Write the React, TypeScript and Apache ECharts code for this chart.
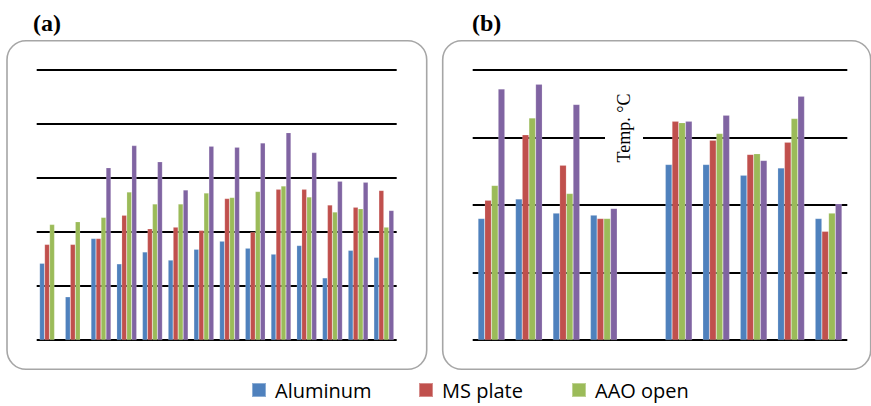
import React, { useEffect, useRef } from "react";
import * as echarts from "echarts";

// Panel (a): 14 measurement groups
const categoriesA = ["1", "2", "3", "4", "5", "6", "7", "8", "9", "10", "11", "12", "13", "14"];
const aluminumA = [14.2, 8.0, 18.8, 14.1, 16.3, 14.8, 16.8, 18.3, 17.0, 15.9, 17.5, 11.5, 16.6, 15.3];
const msPlateA = [17.7, 17.7, 18.8, 23.1, 20.6, 20.9, 20.3, 26.2, 20.0, 27.9, 27.9, 25.0, 24.6, 27.7];
const aaoOpenA = [21.4, 21.9, 22.7, 27.4, 25.2, 25.2, 27.2, 26.4, 27.5, 28.5, 26.5, 23.7, 24.3, 20.9];
const fourthA = [null, null, 31.9, 36.0, 33.0, 27.8, 35.9, 35.7, 36.5, 38.4, 34.7, 29.4, 29.2, 24.0];

// Panel (b): 10 groups (5th left empty)
const categoriesB = ["1", "2", "3", "4", "5", "6", "7", "8", "9", "10"];
const aluminumB = [18.0, 20.9, 18.8, 18.5, null, 26.0, 26.0, 24.4, 25.5, 18.0];
const msPlateB = [20.7, 30.4, 25.9, 18.0, null, 32.4, 29.6, 27.5, 29.3, 16.1];
const aaoOpenB = [22.9, 32.9, 21.7, 18.0, null, 32.2, 30.6, 27.6, 32.8, 18.8];
const fourthB = [37.2, 37.9, 34.9, 19.5, null, 32.4, 33.3, 26.6, 36.1, 20.2];

const yMaxA = 50;
const yMaxB = 40;
const yInterval = 10;

const seriesNames = ["Aluminum", "MS plate", "AAO open", "Series 4"];
const colors = ["#4F81BD", "#C0504D", "#9BBB59", "#8064A2"];

export default function App() {
  const ref = useRef<HTMLDivElement>(null);

  useEffect(() => {
    document.body.style.margin = "0";
    if (!ref.current) return;
    const chart = echarts.init(ref.current, null, { renderer: "svg" });

    const yAxisBase = (max: number, gridIndex: number) => ({
      type: "value" as const,
      gridIndex,
      min: 0,
      max,
      interval: yInterval,
      axisLabel: { show: false },
      axisLine: { show: false },
      axisTick: { show: false },
      splitLine: { show: true, lineStyle: { color: "#000", width: 2 } },
    });
    const xAxisBase = (data: string[], gridIndex: number) => ({
      type: "category" as const,
      gridIndex,
      data,
      axisLabel: { show: false },
      axisLine: { show: false },
      axisTick: { show: false },
      splitLine: { show: false },
    });

    const dataA = [aluminumA, msPlateA, aaoOpenA, fourthA];
    const dataB = [aluminumB, msPlateB, aaoOpenB, fourthB];

    const series: any[] = [];
    dataA.forEach((d, i) => {
      series.push({
        type: "bar",
        name: seriesNames[i],
        xAxisIndex: 0,
        yAxisIndex: 0,
        data: d,
        barWidth: 5,
        barGap: "0%",
        itemStyle: { color: colors[i], borderColor: "rgba(255,255,255,0.35)", borderWidth: 0.5 },
      });
    });
    dataB.forEach((d, i) => {
      series.push({
        type: "bar",
        name: seriesNames[i],
        xAxisIndex: 1,
        yAxisIndex: 1,
        data: d,
        barWidth: 6.7,
        barGap: "0%",
        itemStyle: { color: colors[i], borderColor: "rgba(255,255,255,0.35)", borderWidth: 0.5 },
      });
    });

    const legendPos = [251, 418, 571];
    const legends = seriesNames.slice(0, 3).map((name, i) => ({
      data: [name],
      left: legendPos[i],
      top: 380,
      padding: 0,
      itemWidth: 14,
      itemHeight: 14,
      icon: "rect",
      selectedMode: false,
      textStyle: {
        fontFamily: "Open Sans",
        fontSize: 20,
        color: "#000",
        padding: [0, 0, 0, 4],
      },
    }));

    chart.setOption({
      animation: false,
      backgroundColor: "#fff",
      grid: [
        { left: 36.7, top: 70, width: 360, height: 270, containLabel: false },
        { left: 472.7, top: 70, width: 374.6, height: 270, containLabel: false },
      ],
      xAxis: [xAxisBase(categoriesA, 0), xAxisBase(categoriesB, 1)],
      yAxis: [yAxisBase(yMaxA, 0), yAxisBase(yMaxB, 1)],
      legend: legends,
      series,
      graphic: [
        {
          type: "rect",
          z: -10,
          shape: { x: 7, y: 40.7, width: 419.7, height: 328.6, r: 19 },
          style: { fill: "none", stroke: "#A6A6A6", lineWidth: 1.6 },
        },
        {
          type: "rect",
          z: -10,
          shape: { x: 442.7, y: 40.7, width: 428, height: 328.6, r: 19 },
          style: { fill: "none", stroke: "#A6A6A6", lineWidth: 1.6 },
        },
        {
          type: "text",
          x: 33,
          y: 23,
          style: {
            text: "(a)",
            font: "bold 24px 'Liberation Serif', serif",
            fill: "#000",
            align: "left",
            verticalAlign: "middle",
          },
        },
        {
          type: "text",
          x: 472,
          y: 23,
          style: {
            text: "(b)",
            font: "bold 24px 'Liberation Serif', serif",
            fill: "#000",
            align: "left",
            verticalAlign: "middle",
          },
        },
        {
          type: "text",
          x: 624,
          y: 128,
          rotation: Math.PI / 2,
          z: 100,
          style: {
            text: "Temp. °C",
            font: "18px 'Liberation Serif', serif",
            fill: "#000",
            align: "center",
            verticalAlign: "middle",
            backgroundColor: "#fff",
            padding: [10, 4, 10, 4],
          },
        },
      ],
    });

    return () => chart.dispose();
  }, []);

  return <div ref={ref} style={{ width: 871, height: 406 }} />;
}
